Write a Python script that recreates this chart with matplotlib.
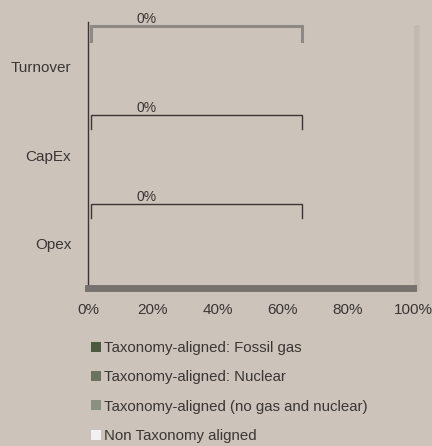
import matplotlib
matplotlib.use('Agg')
import matplotlib.pyplot as plt
from matplotlib.patches import Patch

plt.rcParams['font.family'] = ['Liberation Sans', 'DejaVu Sans']

categories = ['Opex', 'CapEx', 'Turnover']
fossil_gas = [0, 0, 0]
nuclear = [0, 0, 0]
no_gas_nuclear = [0, 0, 0]
non_taxonomy = [0, 0, 0]
bracket_labels = ['0%', '0%', '0%']
x_ticks = [0, 20, 40, 60, 80, 100]

series_names = ['Taxonomy-aligned: Fossil gas', 'Taxonomy-aligned: Nuclear',
                'Taxonomy-aligned (no gas and nuclear)', 'Non Taxonomy aligned']
colors = ['#4b5a41', '#6a735f', '#8b9181', '#f3f1ef']
bg = '#ccc3ba'
dark = '#3a3633'

fig = plt.figure(figsize=(4.32, 4.46), dpi=100, facecolor=bg)
ax = fig.add_axes([88/432, 1-288/446, 325/432, 266/446], facecolor=bg)

ypos = list(range(len(categories)))
left = [0]*len(categories)
for vals, col in zip([fossil_gas, nuclear, no_gas_nuclear, non_taxonomy], colors):
    ax.barh(ypos, vals, left=left, color=col, height=0.5)
    left = [a+b for a, b in zip(left, vals)]

# brackets with the taxonomy share above each bar
bracket_end = 65.8
for i, lab in enumerate(bracket_labels):
    start = fossil_gas[i] + nuclear[i] + no_gas_nuclear[i]
    col = '#8e8984' if categories[i] == 'Turnover' else dark
    lw = 2.2 if categories[i] == 'Turnover' else 1.0
    ax.plot([start+1, start+1, bracket_end, bracket_end], [i+0.29, i+0.45, i+0.45, i+0.29],
            color=col, lw=lw, clip_on=False, solid_joinstyle='miter')
    ax.text(18, i+0.53, lab, ha='center', va='center', fontsize=10, color=dark, clip_on=False)

ax.set_xlim(0, 100)
ax.set_ylim(-0.5, 2.5)
ax.set_xticks(x_ticks)
ax.set_xticklabels([f'{t}%' for t in x_ticks])
ax.set_yticks(ypos)
ax.set_yticklabels(categories)
ax.tick_params(length=0, labelsize=11, colors=dark)
ax.tick_params(axis='y', pad=12)
ax.tick_params(axis='x', pad=11)
for s in ['top', 'right']:
    ax.spines[s].set_visible(False)
ax.spines['left'].set_color(dark)
ax.spines['left'].set_linewidth(1.0)
ax.spines['bottom'].set_color('#77726d')
ax.spines['bottom'].set_linewidth(5)

# faint frame shadow on the right side
ax.plot([101.2, 101.2], [-0.5, 2.43], color='#c2b9b0', lw=4, clip_on=False)

handles = [Patch(facecolor=c, edgecolor='none') for c in colors]
fig.legend(handles, series_names, loc='upper left', bbox_to_anchor=(85/432, 1-335/446),
           frameon=False, fontsize=10.8, handlelength=0.65, handleheight=0.65,
           handletextpad=0.25, labelspacing=1.02, labelcolor=dark, borderaxespad=0)

plt.savefig('out.png', dpi=100, facecolor=bg)
